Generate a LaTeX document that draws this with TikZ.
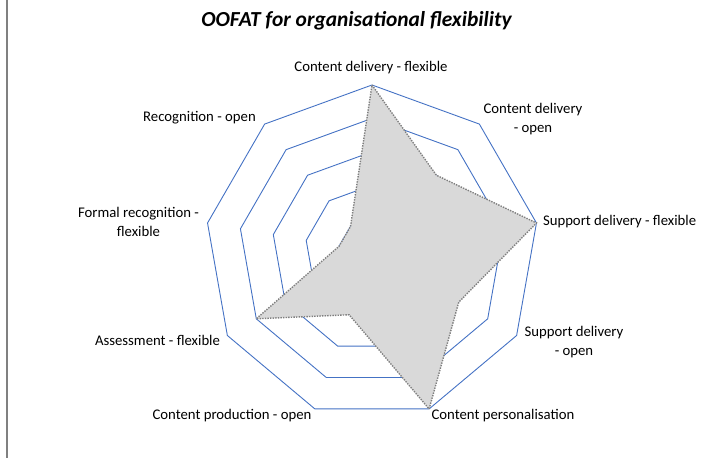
\documentclass[tikz,border=0pt]{standalone}
\usepackage{fontspec}
\setmainfont{Carlito}
\usetikzlibrary{positioning}
\definecolor{gridblue}{HTML}{4472C4}
\definecolor{areagray}{HTML}{D9D9D9}
\definecolor{dotgray}{HTML}{7F7F7F}
\tikzstyle{ring}=[draw=gridblue, line width=0.9bp, line join=miter]
\tikzstyle{scorearea}=[fill=areagray, draw=dotgray, line width=1.4bp, dash pattern=on 1.4bp off 1.2bp]
\tikzstyle{axislabel}=[font=\fontsize{14.8}{18.5}\selectfont, inner sep=0, outer sep=0, align=center]
\newcommand{\axislabel}[3]{\node[axislabel] (#1) at (#2) {#3};}

\begin{document}
\begin{tikzpicture}[x=1bp, y=1bp]
\useasboundingbox (-372,-207) rectangle (346,252);
\draw[gray, line width=2bp] (-364.5,252) -- (-364.5,-206);

\node[font=\fontsize{21.5}{26}\selectfont\bfseries\itshape, inner sep=0] (title) at (-15.5,231) {OOFAT for organisational flexibility};

% grid rings, 5 levels
\foreach \rr in {33.4,66.8,100.2,133.6,167}
  \draw[ring] (90:\rr) \foreach \a in {50,10,...,-230} { -- (\a:\rr) } -- cycle;

% scores
\coordinate (d0) at (90:167);
\coordinate (d1) at (50:100.2);
\coordinate (d2) at (10:167);
\coordinate (d3) at (-30:100.2);
\coordinate (d4) at (-70:167);
\coordinate (d5) at (-110:66.8);
\coordinate (d6) at (-150:133.6);
\coordinate (d7) at (170:33.4);
\coordinate (d8) at (130:33.4);
\draw[scorearea] (d0) -- (d1) -- (d2) -- (d3) -- (d4) -- (d5) -- (d6) -- (d7) -- (d8) -- cycle;

\axislabel{cdf}{-1,184}{Content delivery - flexible}
\axislabel{cdo}{161,133}{Content delivery\\- open}
\node[axislabel, anchor=west] (sdf) at (171,30) {Support delivery - flexible};
\axislabel{sdo}{202,-90}{Support delivery\\- open}
\axislabel{cpers}{131,-164}{Content personalisation}
\axislabel{cprod}{-140,-164}{Content production - open}
\axislabel{asf}{-214.5,-88}{Assessment - flexible}
\axislabel{frf}{-233.5,30}{Formal recognition -\\flexible}
\axislabel{ro}{-172.5,134}{Recognition - open}
\end{tikzpicture}
\end{document}
